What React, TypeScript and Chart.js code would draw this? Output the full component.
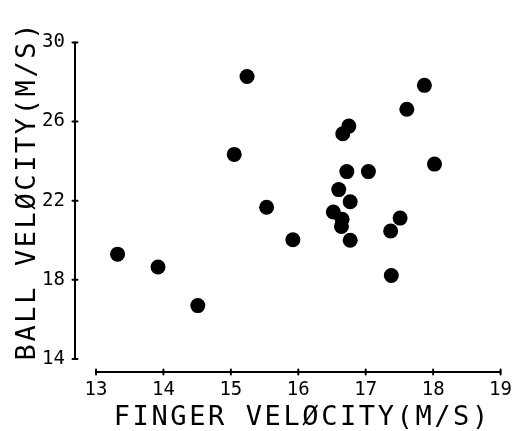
import React, { useEffect, useRef } from "react";
import { Chart, registerables } from "chart.js";

Chart.register(...registerables);

const fingerVelocity = [13.32, 13.92, 14.51, 15.24, 17.87, 17.61, 16.75, 16.66, 15.05, 18.02, 16.72, 17.04, 16.6, 16.77, 15.53, 16.52, 16.65, 17.51, 16.64, 17.37, 15.92, 16.77, 17.38];
const ballVelocity = [19.3, 18.65, 16.7, 28.28, 27.83, 26.62, 25.77, 25.38, 24.34, 23.85, 23.47, 23.47, 22.56, 21.95, 21.67, 21.43, 21.06, 21.12, 20.7, 20.47, 20.03, 20.0, 18.22];
const xTicks = [13, 14, 15, 16, 17, 18, 19];
const yTicks = [14, 18, 22, 26, 30];
const xTitle = "FINGER VELØCITY(M/S)";
const yTitle = "BALL VELØCITY(M/S)";

const FONT = "'DejaVu Sans Mono', 'Liberation Mono', monospace";

const detachedAxes = {
  id: "detachedAxes",
  afterDraw(chart: any) {
    const { ctx, chartArea, scales } = chart;
    const x = scales.x;
    const y = scales.y;
    ctx.save();
    ctx.strokeStyle = "#000";
    ctx.lineWidth = 2;
    ctx.lineCap = "round";
    // y axis
    const ax = chartArea.left - 21;
    const yTop = y.getPixelForValue(yTicks[yTicks.length - 1]);
    const yBot = y.getPixelForValue(yTicks[0]);
    ctx.beginPath();
    ctx.moveTo(ax, yTop);
    ctx.lineTo(ax, yBot);
    ctx.stroke();
    yTicks.forEach((v) => {
      const py = y.getPixelForValue(v);
      ctx.beginPath();
      ctx.moveTo(ax - 2.5, py);
      ctx.lineTo(ax + 2.5, py);
      ctx.stroke();
    });
    // x axis
    const ay = chartArea.bottom + 13;
    const xL = x.getPixelForValue(xTicks[0]);
    const xR = x.getPixelForValue(xTicks[xTicks.length - 1]);
    ctx.beginPath();
    ctx.moveTo(xL, ay);
    ctx.lineTo(xR, ay);
    ctx.stroke();
    xTicks.forEach((v) => {
      const px = x.getPixelForValue(v);
      ctx.beginPath();
      ctx.moveTo(px, ay - 2.5);
      ctx.lineTo(px, ay + 2.5);
      ctx.stroke();
    });

    // axis titles (plotter-style, letter-spaced)
    ctx.fillStyle = "#000";
    ctx.font = `27px ${FONT}`;
    (ctx as any).letterSpacing = "2.6px";
    ctx.textAlign = "center";
    ctx.textBaseline = "alphabetic";
    ctx.fillText(xTitle, (chartArea.left + chartArea.right) / 2 + 4, 425);
    ctx.translate(35, (chartArea.top + chartArea.bottom) / 2 - 10);
    ctx.rotate(-Math.PI / 2);
    ctx.fillText(yTitle, 0, 0);
    ctx.restore();
  },
};

export default function App() {
  const ref = useRef<HTMLCanvasElement | null>(null);
  useEffect(() => {
    if (!ref.current) return;
    const data = fingerVelocity.map((fx, i) => ({ x: fx, y: ballVelocity[i] }));
    const chart = new Chart(ref.current, {
      type: "scatter",
      data: {
        datasets: [
          {
            data,
            backgroundColor: "#000",
            borderColor: "#000",
            borderWidth: 0,
            pointRadius: 7.5,
            pointHoverRadius: 7.5,
          },
        ],
      },
      options: {
        responsive: false,
        animation: false,
        events: [],
        layout: { padding: { left: 10, right: 24, top: 15, bottom: 0 } },
        plugins: { legend: { display: false }, tooltip: { enabled: false } },
        scales: {
          x: {
            type: "linear",
            min: 13,
            max: 19,
            afterBuildTicks: (s: any) => {
              s.ticks = xTicks.map((v) => ({ value: v }));
            },
            afterFit: (s: any) => {
              s.height = 72;
            },
            grid: { display: false, drawTicks: false },
            border: { display: false },
            ticks: {
              padding: 20,
              color: "#000",
              font: { family: FONT, size: 19 },
              maxRotation: 0,
              autoSkip: false,
            },
            title: { display: false },
          },
          y: {
            type: "linear",
            min: 14,
            max: 30,
            afterBuildTicks: (s: any) => {
              s.ticks = yTicks.map((v) => ({ value: v }));
            },
            afterFit: (s: any) => {
              s.width = 86;
            },
            grid: { display: false, drawTicks: false },
            border: { display: false },
            ticks: {
              padding: 31,
              color: "#000",
              font: { family: FONT, size: 19 },
              autoSkip: false,
            },
            title: { display: false },
          },
        },
      },
      plugins: [detachedAxes],
    });
    return () => chart.destroy();
  }, []);
  return (
    <div style={{ position: "fixed", left: 0, top: 0, width: 532, height: 431, background: "#fff" }}>
      <canvas ref={ref} width={532} height={431} style={{ display: "block" }} />
    </div>
  );
}
